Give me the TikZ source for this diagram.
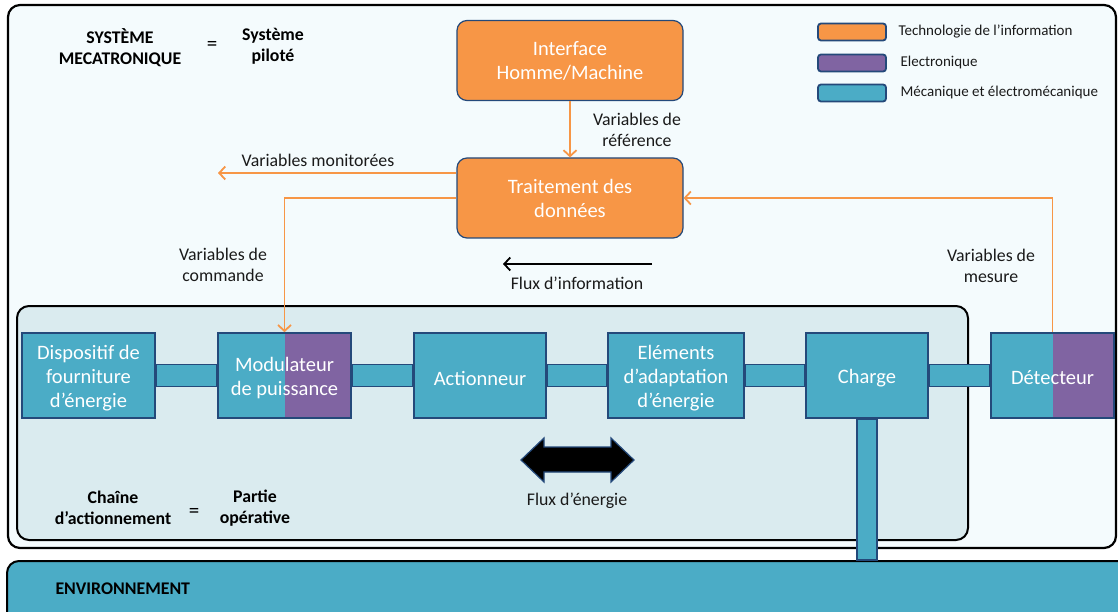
\documentclass[tikz,border=0pt]{standalone}
\usepackage{fontspec}
\setmainfont{Carlito}
\usetikzlibrary{arrows.meta}
\definecolor{bgout}{HTML}{F4FBFD}
\definecolor{bgin}{HTML}{DAEBEF}
\definecolor{mblue}{HTML}{4BACC6}
\definecolor{morange}{HTML}{F79646}
\definecolor{mpurple}{HTML}{8064A2}
\definecolor{bdr}{HTML}{24497A}
\definecolor{txt}{HTML}{1A1A1A}
\tikzset{
  boxtxt/.style={font=\fontsize{20.5}{24}\selectfont, text=white, align=center, inner sep=0pt},
  mbox/.style={draw=bdr, line width=1.6pt, fill=mblue, inner sep=0pt, minimum height=85pt},
  halfpurple/.style={path picture={\fill[mpurple] (path picture bounding box.north) rectangle (path picture bounding box.south east);}},
  obox/.style={boxtxt, draw=bdr, line width=1.2pt, fill=morange, rounded corners=10pt, inner sep=0pt, minimum width=226pt, minimum height=80pt},
  lbl/.style={font=\fontsize{17.8}{21}\selectfont, text=txt, align=center},
  ttl/.style={font=\fontsize{17.8}{21}\bfseries\selectfont, text=black, align=center},
  leg/.style={draw=bdr, line width=1.8pt, rounded corners=3pt, minimum width=68pt, minimum height=17pt, inner sep=0pt},
  legtxt/.style={font=\fontsize{15}{18}\selectfont, text=txt, anchor=west},
  oarr/.style={draw=morange, line width=1.8pt, -{Straight Barb[length=6pt,width=13pt]}},
  bar/.style={draw=bdr, line width=1.6pt, fill=mblue}
}
\begin{document}
\begin{tikzpicture}[x=1pt,y=-1pt]
\useasboundingbox (0,0) rectangle (1118,612);
% containers
\draw[line width=2.2pt, fill=bgout, rounded corners=12pt] (8,5) rectangle (1116,548);
\draw[line width=2pt, fill=bgin, rounded corners=12pt] (17,306) rectangle (968,540);
\node[draw=black, line width=2pt, fill=mblue, rounded corners=12pt, minimum width=1130pt, minimum height=70pt, anchor=north west] (env) at (6,560) {};
\node[ttl, anchor=west] (envt) at (52,589) {ENVIRONNEMENT};

% titles
\node[ttl] (sys) at (120,48) {SYSTÈME\\MECATRONIQUE};
\node[font=\fontsize{21}{24}\selectfont] (eq1) at (212,46) {=};
\node[ttl] (pil) at (273,46) {Système\\piloté};
\node[ttl] (chn) at (113,508) {Chaîne\\d’actionnement};
\node[font=\fontsize{21}{24}\selectfont] (eq2) at (194,513) {=};
\node[ttl] (part) at (255,508) {Partie\\opérative};

% legend
\node[leg, fill=morange] (l1) at (852,32) {};
\node[leg, fill=mpurple] (l2) at (852,63) {};
\node[leg, fill=mblue] (l3) at (852,93) {};
\node[legtxt] (t1) at (895,32) {Technologie de l’information};
\node[legtxt] (t2) at (897,63) {Electronique};
\node[legtxt] (t3) at (897,93) {Mécanique et électromécanique};

% orange boxes
\node[obox] (ihm) at (570,60.5) {Interface\\Homme/Machine};
\node[obox] (trt) at (570,198) {Traitement des\\données};

% chain boxes
\node[mbox, minimum width=133pt] (disp) at (88.5,375.5) {};
\node[mbox, minimum width=133pt, halfpurple] (mod) at (284.5,375.5) {};
\node[mbox, minimum width=132pt] (act) at (480,375.5) {};
\node[mbox, minimum width=136pt] (elem) at (676,375.5) {};
\node[mbox, minimum width=122pt] (chg) at (867,375.5) {};
\node[mbox, minimum width=123pt, halfpurple] (det) at (1052.5,375.5) {};
\node[boxtxt] (dispt) at ([yshift=-2.5pt]disp.center) {Dispositif de\\fourniture\\d’énergie};
\node[boxtxt] (modt) at ([yshift=-2.5pt]mod.center) {Modulateur\\de puissance};
\node[boxtxt] (actt) at ([yshift=-2.5pt]act.center) {Actionneur};
\node[boxtxt] (elemt) at ([yshift=-2.5pt]elem.center) {Eléments\\d’adaptation\\d’énergie};
\node[boxtxt] (chgt) at ([yshift=-2.5pt]chg.center) {Charge};
\node[boxtxt] (dett) at ([yshift=-2.5pt]det.center) {Détecteur};

% bars
\draw[bar] ([yshift=11pt]disp.east) rectangle ([yshift=-11pt]mod.west);
\draw[bar] ([yshift=11pt]mod.east) rectangle ([yshift=-11pt]act.west);
\draw[bar] ([yshift=11pt]act.east) rectangle ([yshift=-11pt]elem.west);
\draw[bar] ([yshift=11pt]elem.east) rectangle ([yshift=-11pt]chg.west);
\draw[bar] ([yshift=11pt]chg.east) rectangle ([yshift=-11pt]det.west);
\draw[bar] ([xshift=-10pt]chg.south) rectangle ([xshift=10pt]chg.south |- env.north);

% orange connectors
\coordinate (mon) at (218,173);
\draw[oarr] (ihm.south) -- (trt.north);
\draw[oarr] ([yshift=25pt]trt.west) -- (mon);
\draw[oarr] (trt.west) -| (mod.north);
\draw[oarr] (det.north) |- (trt.east);

% labels
\node[lbl] (vref) at (637,130) {Variables de\\référence};
\node[lbl] (vmon) at (318,160) {Variables monitorées};
\node[lbl] (vcom) at (223,265) {Variables de\\commande};
\node[lbl] (vmes) at (991,266) {Variables de\\mesure};

% information flow
\coordinate (fi1) at (652,264);
\coordinate (fi2) at (503,264);
\draw[line width=1.8pt, -{Straight Barb[length=6pt,width=13pt]}] (fi1) -- (fi2);
\node[lbl] (fit) at (577,283) {Flux d’information};

% energy flow
\filldraw[fill=black, draw=bdr, line width=1.2pt]
  (521,460) -- (544,438) -- (544,447) -- (611,447) -- (611,438) -- (634,460)
  -- (611,482) -- (611,472) -- (544,472) -- (544,482) -- cycle;
\node[lbl] (fet) at (577,501) {Flux d’énergie};
\end{tikzpicture}
\end{document}
